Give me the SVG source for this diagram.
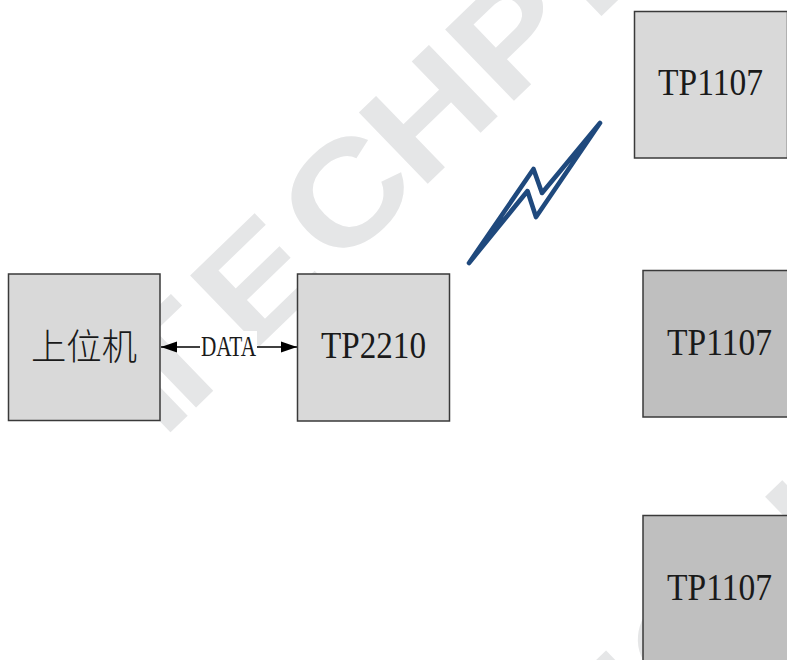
<svg xmlns="http://www.w3.org/2000/svg" width="787" height="660" viewBox="0 0 787 660">
<style>
.wm{font-family:"Liberation Sans",Arial,sans-serif;font-weight:700;font-size:144px;fill:#e5e6e7}
.box{stroke:#3a3a3a;stroke-width:1.5}
.a{fill:#d9d9d9}.b{fill:#bfbfbf}
.t{font-family:"Liberation Serif","Times New Roman",serif;font-size:37px;fill:#1a1a1a}
</style>
<defs>
<marker id="ah" viewBox="0 0 16 12" markerWidth="16" markerHeight="12" markerUnits="userSpaceOnUse" refX="16" refY="6" orient="auto-start-reverse"><path d="M0 0.5L16 6L0 11.5Z" fill="#000"/></marker>
</defs>
<rect width="787" height="660" fill="#fff"/>
<g id="watermark">
<text class="wm" transform="translate(254.400,351.300) rotate(-44) scale(1.150,1)" x="-111 -104 -4 100 200 304 410">ITECHPI</text>
<text class="wm" transform="translate(674.600,722) rotate(-44) scale(1.150,1)" x="-30 10 183">IOI</text>
</g>
<g id="connectors">
<rect x="200" y="331" width="57" height="27" fill="#fff"/>
<line x1="161" y1="347" x2="200" y2="347" stroke="#000" stroke-width="1.3" marker-start="url(#ah)"/>
<line x1="257" y1="347" x2="297" y2="347" stroke="#000" stroke-width="1.3" marker-end="url(#ah)"/>
<path d="M469 263L533.500 169L542 193L600 123L536 217L527.500 191Z" fill="none" stroke="#1f497d" stroke-width="4.600" stroke-linejoin="round"/>
</g>
<g id="host"><rect class="box a" x="8.500" y="274" width="151.500" height="146.500"/>
<text x="31" y="360" font-family="'Noto Sans CJK SC',sans-serif" font-size="36" font-weight="300" fill="#1a1a1a" textLength="106" lengthAdjust="spacingAndGlyphs">上位机</text></g>
<g id="label-data"><text class="t" x="201" y="356" style="font-size:29px" textLength="55" lengthAdjust="spacingAndGlyphs">DATA</text></g>
<g id="tp2210"><rect class="box a" x="297.500" y="274" width="152" height="147"/>
<text class="t" x="321" y="358" textLength="105" lengthAdjust="spacingAndGlyphs">TP2210</text></g>
<g id="tp1107-1"><rect class="box a" x="634.500" y="11.500" width="153" height="146.500"/>
<text class="t" x="658" y="95" textLength="105" lengthAdjust="spacingAndGlyphs">TP1107</text></g>
<g id="tp1107-2"><rect class="box b" x="643" y="270.500" width="145" height="146.500"/>
<text class="t" x="667" y="355" textLength="105" lengthAdjust="spacingAndGlyphs">TP1107</text></g>
<g id="tp1107-3"><rect class="box b" x="643" y="515.500" width="145" height="150"/>
<text class="t" x="667" y="600" textLength="105" lengthAdjust="spacingAndGlyphs">TP1107</text></g>
</svg>
